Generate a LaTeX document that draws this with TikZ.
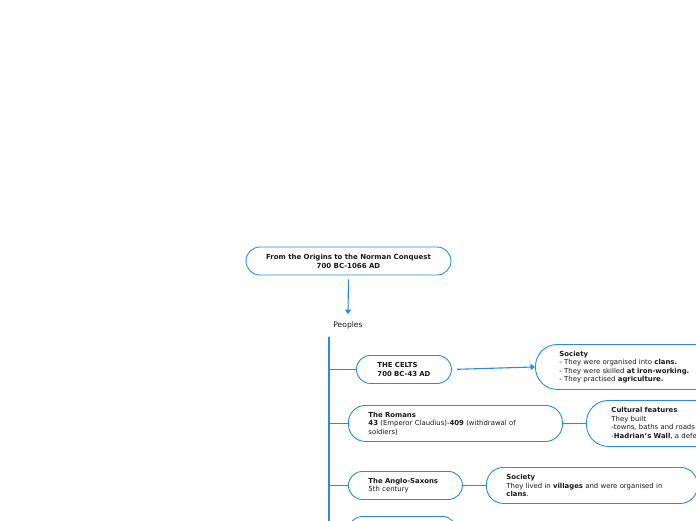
\documentclass[tikz,border=0pt]{standalone}
\usepackage{fontspec}
\setmainfont{DejaVu Sans}
\usetikzlibrary{arrows.meta}
\definecolor{mmblue}{RGB}{38,140,226}
\definecolor{mmtext}{RGB}{25,25,25}
\begin{document}
\begin{tikzpicture}[x=1pt,y=-1pt,
  box/.style={draw=mmblue, line width=0.9pt, fill=white, text=mmtext,
    font=\fontsize{6.9}{8.5}\selectfont, align=left, inner ysep=0pt},
  branch/.style={draw=mmblue, line width=1.1pt},
  arr/.style={draw=mmblue, line width=1.1pt, -{Triangle[width=6pt,length=4.5pt]}}]
\useasboundingbox (0,0) rectangle (696,520);
% top
\node[box, rounded corners=14pt, anchor=center, align=center, text width=190pt, inner xsep=7.5pt, minimum height=28pt,
  font=\fontsize{7}{9}\selectfont] (top) at (348.5,261)
  {\textbf{From the Origins to the Norman Conquest}\\\textbf{700 BC-1066 AD}};
\node[text=mmtext, font=\fontsize{7.6}{9}\selectfont, inner sep=0pt] (peoples) at (348,325) {Peoples};
\draw[arr, shorten <=4pt] (top.south) -- ([yshift=7pt]peoples.north);
% trunk
\coordinate (trunkTop) at (329,337);
\coordinate (trunkEnd) at (329,530);
\draw[branch, line width=1.5pt] (trunkTop) -- (trunkEnd);
% level 1
\node[box, rounded corners=14pt, anchor=north west, text width=60pt, inner xsep=17.5pt, minimum height=28pt] (celts) at (356,355)
  {\hspace*{3.5pt}\textbf{THE CELTS}\\\hspace*{3.5pt}\textbf{700 BC-43 AD}};
\node[box, rounded corners=17pt, anchor=north west, text width=174pt, inner xsep=20pt, minimum height=36pt] (romans) at (348,405)
  {\textbf{The Romans}\\\textbf{43} (Emperor Claudius)-\textbf{409} (withdrawal of\\soldiers)};
\node[box, rounded corners=14pt, anchor=north west, text width=78pt, inner xsep=18pt, minimum height=28pt] (anglo) at (348,471)
  {\hspace*{2pt}\textbf{The Anglo-Saxons}\\\hspace*{2pt}5th century};
\node[box, rounded corners=14pt, anchor=north west, text width=68pt, inner xsep=20pt, minimum height=28pt] (next) at (348,516) {};
% level 2
\node[box, rounded corners=22pt, anchor=north west, text width=170pt, inner xsep=24pt, minimum height=45pt] (soc1) at (535,344)
  {\textbf{Society}\\- They were organised into \textbf{clans.}\\- They were skilled \textbf{at iron-working.}\\- They practised \textbf{agriculture.}};
\node[box, rounded corners=22pt, anchor=north west, text width=170pt, inner xsep=25pt, minimum height=46pt] (cult) at (586,400)
  {\textbf{Cultural features}\\They built\\-towns, baths and roads\\-\textbf{Hadrian's Wall}, a defensive wall};
\node[box, rounded corners=17pt, anchor=north west, text width=171pt, inner xsep=20pt, minimum height=36pt] (soc2) at (486,467)
  {\textbf{Society}\\They lived in \textbf{villages} and were organised in\\\textbf{clans}.};
% branches
\draw[branch] (trunkTop |- celts.west) -- (celts.west);
\draw[branch] (trunkTop |- romans.west) -- (romans.west);
\draw[branch] (trunkTop |- anglo.west) -- (anglo.west);
\draw[arr, shorten <=5pt] (celts.east) -- (soc1.west);
\draw[branch] (romans.east) -- (cult.west);
\draw[branch] (anglo.east) -- (soc2.west);
\end{tikzpicture}
\end{document}
